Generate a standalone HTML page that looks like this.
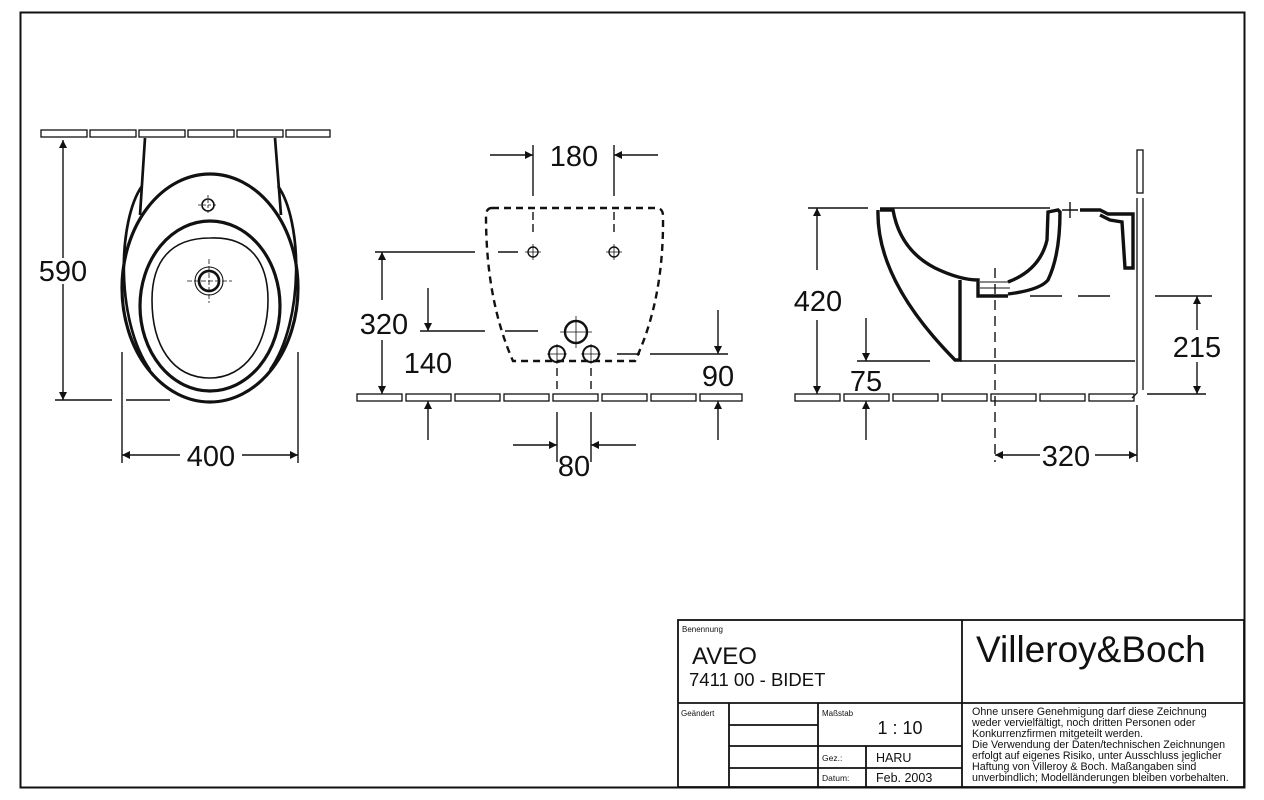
<!DOCTYPE html>
<html><head><meta charset="utf-8"><style>
html,body{margin:0;padding:0;background:#fff;}
svg{display:block;font-family:"Liberation Sans",Arial,sans-serif;}
</style></head><body>
<svg width="1264" height="800" viewBox="0 0 1264 800" xmlns="http://www.w3.org/2000/svg">
<defs>
<marker id="a" viewBox="0 0 10 10" refX="10" refY="5" markerWidth="14" markerHeight="8" markerUnits="userSpaceOnUse" orient="auto"><path d="M0,0 L10,5 L0,10 z" fill="#111"/></marker>
</defs>
<rect x="20.5" y="12.5" width="1224" height="775" fill="none" stroke="#111" stroke-width="2"/>
<g stroke="#111" fill="none" stroke-width="1.4">
<!-- LEFT VIEW -->
<g stroke-width="1.3">
<rect x="41" y="130" width="46" height="7"/><rect x="90" y="130" width="46" height="7"/><rect x="139" y="130" width="46" height="7"/><rect x="188" y="130" width="46" height="7"/><rect x="237" y="130" width="46" height="7"/><rect x="286" y="130" width="44" height="7"/>
</g>
<path d="M145,138 L140,215 M275,138 L281,215" stroke-width="2.7"/>
<path d="M142,186 C118,220 115,320 150,370 M278,186 C302,220 305,320 270,370" stroke-width="2.7"/>
<ellipse cx="210" cy="288" rx="88" ry="114" stroke-width="3.2"/>
<ellipse cx="210" cy="306" rx="70" ry="85" stroke-width="3.2"/>
<path d="M210,238 C250,236 268,262 268,300 C268,345 245,378 210,378 C172,378 152,345 152,300 C152,262 170,238 210,238 Z" stroke-width="1.6"/>
<circle cx="208" cy="205" r="6" stroke-width="1.6"/>
<path d="M198,205 H218 M208,195 V215" stroke-width="0.8" stroke-dasharray="3,2"/>
<circle cx="209" cy="281" r="10" stroke-width="2.7"/><circle cx="209" cy="281" r="14" stroke-width="1.1"/>
<path d="M187,281 H232 M209,259 V303" stroke-width="0.8" stroke-dasharray="5,2"/>
<line x1="63" y1="258" x2="63" y2="140" marker-end="url(#a)"/>
<line x1="63" y1="284" x2="63" y2="400" marker-end="url(#a)"/>
<path d="M55,400 H112 M126,400 H170"/>
<line x1="122" y1="352" x2="122" y2="463"/><line x1="298" y1="352" x2="298" y2="463"/>
<line x1="180" y1="455" x2="122" y2="455" marker-end="url(#a)"/><line x1="242" y1="455" x2="298" y2="455" marker-end="url(#a)"/>

<!-- MIDDLE VIEW -->
<g stroke-width="1.3">
<rect x="357" y="394" width="45" height="7"/><rect x="406" y="394" width="45" height="7"/><rect x="455" y="394" width="45" height="7"/><rect x="504" y="394" width="45" height="7"/><rect x="553" y="394" width="45" height="7"/><rect x="602" y="394" width="45" height="7"/><rect x="651" y="394" width="45" height="7"/><rect x="700" y="394" width="42" height="7"/>
</g>
<path d="M492,208 H656 Q663,208 663,216 Q664,300 635,361 H513 Q486,300 486,216 Q486,208 492,208 Z" stroke-width="2.4" stroke-dasharray="7,5"/>
<circle cx="533" cy="252" r="5"/><circle cx="614" cy="252" r="5"/>
<path d="M525,252 H541 M533,244 V260 M606,252 H622 M614,244 V260" stroke-width="0.8"/>
<path d="M533,212 V235 M614,212 V235" stroke-dasharray="8,4"/>
<circle cx="576" cy="332" r="11" stroke-width="2.4"/><path d="M560,332 H592 M576,316 V348" stroke-width="0.8"/>
<circle cx="557" cy="354" r="8" stroke-width="2"/><circle cx="591" cy="354" r="8" stroke-width="2"/>
<path d="M547,354 H567 M557,344 V364 M581,354 H601 M591,344 V364" stroke-width="0.8"/>
<path d="M557,368 V392 M591,368 V392" stroke-dasharray="8,5"/>
<line x1="533" y1="145" x2="533" y2="196"/><line x1="614" y1="145" x2="614" y2="196"/>
<line x1="490" y1="155" x2="533" y2="155" marker-end="url(#a)"/><line x1="658" y1="155" x2="614" y2="155" marker-end="url(#a)"/>
<path d="M375,252 H475 M498,252 H518" />
<line x1="382" y1="300" x2="382" y2="252" marker-end="url(#a)"/><line x1="382" y1="340" x2="382" y2="394" marker-end="url(#a)"/>
<path d="M420,331 H485 M505,331 H538"/>
<line x1="428" y1="288" x2="428" y2="331" marker-end="url(#a)"/><line x1="428" y1="440" x2="428" y2="401" marker-end="url(#a)"/>
<path d="M650,354 H728 M617,354 H640"/>
<line x1="718" y1="310" x2="718" y2="354" marker-end="url(#a)"/><line x1="718" y1="440" x2="718" y2="401" marker-end="url(#a)"/>
<line x1="557" y1="412" x2="557" y2="462"/><line x1="591" y1="412" x2="591" y2="462"/>
<line x1="513" y1="445" x2="557" y2="445" marker-end="url(#a)"/><line x1="636" y1="445" x2="591" y2="445" marker-end="url(#a)"/>

<!-- RIGHT VIEW -->
<g stroke-width="1.3">
<rect x="795" y="394" width="45" height="7"/><rect x="844" y="394" width="45" height="7"/><rect x="893" y="394" width="45" height="7"/><rect x="942" y="394" width="45" height="7"/><rect x="991" y="394" width="45" height="7"/><rect x="1040" y="394" width="45" height="7"/><rect x="1089" y="394" width="45" height="7"/>
<rect x="1137" y="150" width="6" height="43"/><path d="M1137,198 V393 L1132,398 M1143,198 V390"/>
</g>
<path d="M808,208 H868 M880,208 H1050"/>
<path d="M878,210 Q876,280 955,360 L960,360 L960,280 M880,210 L893,210 Q900,250 935,268 Q960,280 978,280 L978,296 L1008,296 M1008,282 Q1040,270 1047,240 L1048,212 L1058,210 L1060,212 Q1060,255 1048,280 Q1040,290 1008,294" stroke-width="3.4"/>
<path d="M1080,210 H1100 L1108,214 L1133,214 L1133,268 L1125,268 L1122,222 L1110,220 L1100,215" stroke-width="3.4"/>
<path d="M1062,210 H1078 M1070,202 V218"/>
<path d="M980,282 H1010 M980,288 H1010" stroke-width="1"/>
<path d="M960,361 H1135"/>
<path d="M995,268 V462" stroke-dasharray="10,6"/>
<path d="M1030,296 H1062 M1078,296 H1110 M1155,296 H1212"/>
<line x1="817" y1="270" x2="817" y2="208" marker-end="url(#a)"/><line x1="817" y1="320" x2="817" y2="394" marker-end="url(#a)"/>
<path d="M857,361 H930"/>
<line x1="866" y1="318" x2="866" y2="361" marker-end="url(#a)"/><line x1="866" y1="440" x2="866" y2="401" marker-end="url(#a)"/>
<path d="M1147,394 H1206"/>
<line x1="1197" y1="330" x2="1197" y2="296" marker-end="url(#a)"/><line x1="1197" y1="362" x2="1197" y2="394" marker-end="url(#a)"/>
<line x1="1137" y1="405" x2="1137" y2="462"/>
<line x1="1040" y1="455" x2="995" y2="455" marker-end="url(#a)"/><line x1="1095" y1="455" x2="1137" y2="455" marker-end="url(#a)"/>

<!-- TITLE BLOCK -->
<g stroke-width="1.8">
<rect x="678" y="620" width="566" height="167"/>
<line x1="962" y1="620" x2="962" y2="787"/>
<line x1="678" y1="703" x2="1244" y2="703"/>
<line x1="729" y1="703" x2="729" y2="787"/>
<line x1="818" y1="703" x2="818" y2="787"/>
<line x1="729" y1="725" x2="818" y2="725"/><line x1="729" y1="746" x2="962" y2="746"/><line x1="729" y1="768" x2="962" y2="768"/>
<line x1="866" y1="746" x2="866" y2="787"/>
</g>
</g>
<g fill="#111" font-size="29" text-anchor="middle">
<text x="63" y="281">590</text>
<text x="211" y="466">400</text>
<text x="574" y="166">180</text>
<text x="384" y="334">320</text>
<text x="428" y="373">140</text>
<text x="718" y="386">90</text>
<text x="574" y="476">80</text>
<text x="818" y="311">420</text>
<text x="866" y="391">75</text>
<text x="1197" y="357">215</text>
<text x="1066" y="466">320</text>
</g>
<g fill="#111">
<text x="682" y="632" font-size="8">Benennung</text>
<text x="692" y="664" font-size="24">AVEO</text>
<text x="689" y="686" font-size="18.5">7411 00 - BIDET</text>
<text x="976" y="662" font-size="37">Villeroy&amp;Boch</text>
<text x="681" y="716" font-size="8">Geändert</text>
<text x="822" y="716" font-size="8">Maßstab</text>
<text x="900" y="734" font-size="18" text-anchor="middle">1 : 10</text>
<text x="822" y="761" font-size="8.5">Gez.:</text>
<text x="876" y="762" font-size="12.5">HARU</text>
<text x="822" y="781" font-size="8.5">Datum:</text>
<text x="876" y="782" font-size="12.5">Feb. 2003</text>
<g font-size="10.7">
<text x="972" y="715">Ohne unsere Genehmigung darf diese Zeichnung</text>
<text x="972" y="726">weder vervielfältigt, noch dritten Personen oder</text>
<text x="972" y="737">Konkurrenzfirmen mitgeteilt werden.</text>
<text x="972" y="748">Die Verwendung der Daten/technischen Zeichnungen</text>
<text x="972" y="759">erfolgt auf eigenes Risiko, unter Ausschluss jeglicher</text>
<text x="972" y="770">Haftung von Villeroy &amp; Boch. Maßangaben sind</text>
<text x="972" y="781">unverbindlich; Modelländerungen bleiben vorbehalten.</text>
</g>
</g>
</svg>
</body></html>
